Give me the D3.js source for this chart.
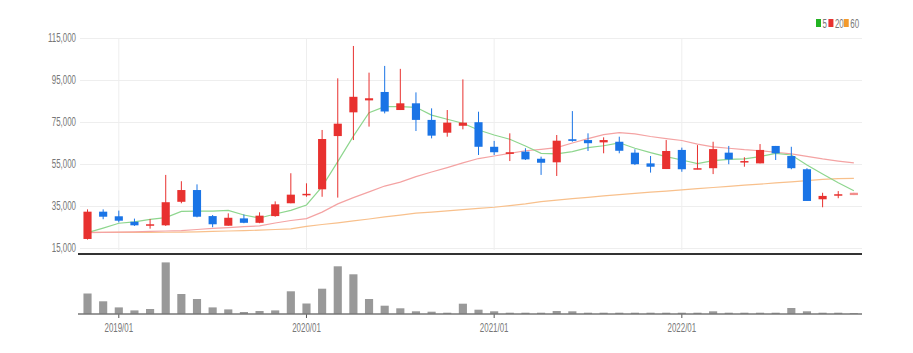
<!DOCTYPE html>
<html>
<head>
<meta charset="utf-8">
<script src="https://d3js.org/d3.v7.min.js"></script>
<style>
  body { margin: 0; background: #fff; }
  text { font-family: "Liberation Sans", Arial, sans-serif; }
</style>
</head>
<body>
<svg id="chart" width="913" height="353"></svg>
<script>
let months = ["2018/11","2018/12",
  "2019/01","2019/02","2019/03","2019/04","2019/05","2019/06","2019/07","2019/08","2019/09","2019/10","2019/11","2019/12",
  "2020/01","2020/02","2020/03","2020/04","2020/05","2020/06","2020/07","2020/08","2020/09","2020/10","2020/11","2020/12",
  "2021/01","2021/02","2021/03","2021/04","2021/05","2021/06","2021/07","2021/08","2021/09","2021/10","2021/11","2021/12",
  "2022/01","2022/02","2022/03","2022/04","2022/05","2022/06","2022/07","2022/08","2022/09","2022/10","2022/11","2022/12"];

let openP  = [19300,32300,30100,27500,25600,25800,37000,42600,30200,25600,29100,27000,30200,36300,
              40100,42950,68300,79600,85300,89300,80700,83900,76000,69900,73200,74900,
              63200,59800,60900,57500,55800,66800,66400,65300,65600,60400,55300,52600,
              61700,52500,53000,60400,55800,55300,63600,58800,52500,38200,39900,40200];
let highP  = [33400,33400,32800,29000,28800,49800,46800,45300,30700,31500,31000,32000,37200,50600,
              45800,71200,95800,111200,98500,101700,100300,89100,81500,80700,95300,79900,
              66000,69600,62500,58500,68800,80200,69600,67700,68000,62000,58800,66400,
              62800,64000,65600,63600,58200,64500,63600,63200,53000,41300,42100,41300];
let lowP   = [19000,28700,27200,25500,24200,25500,36300,29600,24900,25600,26800,26800,29900,36300,
              39400,39400,39000,66400,72800,79100,80700,70700,67200,68000,71500,59300,
              59300,56400,56900,49800,49300,65600,61200,60100,60100,54500,50900,52600,
              51300,52500,50200,54900,53700,55300,56900,52500,37400,34400,38700,40200];
let closeP = [32300,29900,28000,25800,26300,36800,42600,29900,26300,29400,27000,30400,35800,40400,
              40800,66900,74200,87000,86300,80000,83900,76000,68500,74700,74700,63200,
              60600,60600,57200,55600,66100,66000,64900,66400,61300,54900,53700,61200,
              52500,53000,62100,57200,56400,61700,60100,53000,37400,39800,40600,41300];

let volume = [2050000,1270000,660000,360000,500000,5160000,2000000,1500000,660000,460000,200000,300000,360000,2270000,
              1050000,2530000,4770000,3970000,1500000,830000,570000,270000,230000,130000,1030000,430000,
              270000,130000,130000,130000,300000,270000,130000,130000,130000,130000,130000,130000,
              130000,130000,270000,130000,130000,130000,130000,600000,270000,130000,130000,80000];

let ma5  = [22300,24500,26800,27400,28600,29500,32400,32600,32600,32900,30700,29300,31200,32900,
            35500,44200,56100,68300,79400,82300,82300,82000,78300,76300,74400,71200,
            68800,66800,63600,60100,59800,60900,62800,63700,65100,62500,60400,58500,
            56900,55200,56600,57200,57400,58500,60100,59300,54500,50200,46100,42300];
let ma20 = [22300,22400,22600,22700,22900,23100,23300,23800,24300,24700,25200,25500,26900,28100,
            29000,32100,36000,39000,41700,44500,46400,49000,51200,53300,55500,57600,
            58800,60100,61300,62000,62800,65000,67100,69000,69900,69300,68100,67100,
            66200,64500,63200,62500,61800,61300,60600,59800,58600,57400,56400,55500];
let ma60 = [22400,22400,22400,22400,22400,22500,22600,22700,22900,23100,23300,23500,23800,24100,
            25300,26200,27000,27900,28800,29800,30700,31600,32100,32700,33300,33900,
            34400,35200,36000,37100,37800,38500,39100,39800,40400,41000,41600,42100,
            42700,43300,43800,44300,44900,45400,46000,46500,47100,47700,48000,48200];

let priceTicks = [15000,35000,55000,75000,95000,115000];
let yearTicks = ["2019/01","2020/01","2021/01","2022/01"];
let maNames = ["5","20","60"];

let svg = d3.select("#chart");

// the reference uses a narrow face; squeeze the regular one
function narrow(sel){
  sel.each(function(){
    let w = this.getComputedTextLength();
    d3.select(this).attr("textLength", w * 0.66).attr("lengthAdjust", "spacingAndGlyphs");
  });
}

let x = d3.scaleBand()
          .domain(months)
          .range([79.7, 861.7])
          .paddingInner(0.48)
          .paddingOuter(0.24);

let y = d3.scaleLinear()
          .domain([15000, 115000])
          .range([248, 38]);

let yVol = d3.scaleLinear()
             .domain([0, 5500000])
             .range([314, 259]);

let cx = d => x(d) + x.bandwidth() / 2;

// grid + y labels
let yAxis = d3.axisLeft(y)
              .tickValues(priceTicks)
              .tickFormat(d3.format(","))
              .tickSizeInner(-782)
              .tickSizeOuter(0)
              .tickPadding(4);

svg.append("g")
   .attr("transform", "translate(80,0)")
   .call(yAxis)
   .call(g => g.select(".domain").remove())
   .call(g => g.selectAll("line").attr("stroke", "#eeeeee"))
   .call(g => g.selectAll("text").attr("fill", "#777").attr("font-size", 12).call(narrow));

// vertical grid at year ticks
let xGrid = d3.axisBottom(x)
              .tickValues(yearTicks)
              .tickSize(-212)
              .tickFormat("");

svg.append("g")
   .attr("transform", "translate(0,250)")
   .call(xGrid)
   .call(g => g.select(".domain").remove())
   .call(g => g.selectAll("line").attr("stroke", "#eeeeee"));

// separator
svg.append("line")
   .attr("x1", 78).attr("x2", 862)
   .attr("y1", 254).attr("y2", 254)
   .attr("stroke", "#333").attr("stroke-width", 2);

// moving averages
let maLine = arr => d3.line()
                      .x((d, i) => cx(months[i]))
                      .y(d => y(d))(arr);

svg.append("path").attr("d", maLine(ma60)).attr("fill", "none")
   .attr("stroke", "#f8c08c").attr("stroke-width", 1.2);
svg.append("path").attr("d", maLine(ma20)).attr("fill", "none")
   .attr("stroke", "#f4a3a3").attr("stroke-width", 1.2);
svg.append("path").attr("d", maLine(ma5)).attr("fill", "none")
   .attr("stroke", "#8ed68e").attr("stroke-width", 1.2);

// candles
let candles = months.map((m, i) => ({
  m: m, o: openP[i], h: highP[i], l: lowP[i], c: closeP[i], last: i === months.length - 1
}));

let col = d => d.c >= d.o ? "#e8312f" : "#1a74e6";

let cg = svg.append("g").selectAll("g")
            .data(candles)
            .enter()
            .append("g")
            .attr("opacity", d => d.last ? 0.55 : 1);

cg.append("line")
  .attr("x1", d => cx(d.m)).attr("x2", d => cx(d.m))
  .attr("y1", d => y(d.h)).attr("y2", d => y(d.l))
  .attr("stroke", col).attr("stroke-width", 1);

cg.append("rect")
  .attr("x", d => x(d.m))
  .attr("width", x.bandwidth())
  .attr("y", d => y(Math.max(d.o, d.c)))
  .attr("height", d => Math.max(1.5, Math.abs(y(d.o) - y(d.c))))
  .attr("fill", col);

// volume
svg.append("g").selectAll("rect")
   .data(volume)
   .enter()
   .append("rect")
   .attr("x", (d, i) => x(months[i]))
   .attr("width", x.bandwidth())
   .attr("y", d => yVol(d))
   .attr("height", d => yVol(0) - yVol(d))
   .attr("fill", "#999");

let xAxis = d3.axisBottom(x)
              .tickValues(yearTicks)
              .tickSizeInner(4)
              .tickSizeOuter(0)
              .tickPadding(5);

svg.append("g")
   .attr("transform", "translate(0,314)")
   .call(xAxis)
   .call(g => g.select(".domain").remove())
   .call(g => g.selectAll("line").attr("stroke", "#555"))
   .call(g => g.selectAll("text").attr("fill", "#777").attr("font-size", 12).call(narrow));

svg.append("line")
   .attr("x1", 78).attr("x2", 862)
   .attr("y1", 314).attr("y2", 314)
   .attr("stroke", "#777").attr("stroke-width", 1.5);

// legend
let legendCols = ["#22b322", "#e8312f", "#f39a2c"];
let lg = svg.append("g").attr("transform", "translate(816,19)");
let lx = 0;
maNames.forEach((n, i) => {
  lg.append("rect").attr("x", lx).attr("y", 0).attr("width", 5).attr("height", 8)
    .attr("fill", legendCols[i]);
  let t = lg.append("text").attr("x", lx + 6.5).attr("y", 8.5)
            .attr("font-size", 12).attr("fill", "#777").text(n).call(narrow);
  lx += 6.5 + t.node().getComputedTextLength() * 0.66 + 3;
});
</script>
</body>
</html>
